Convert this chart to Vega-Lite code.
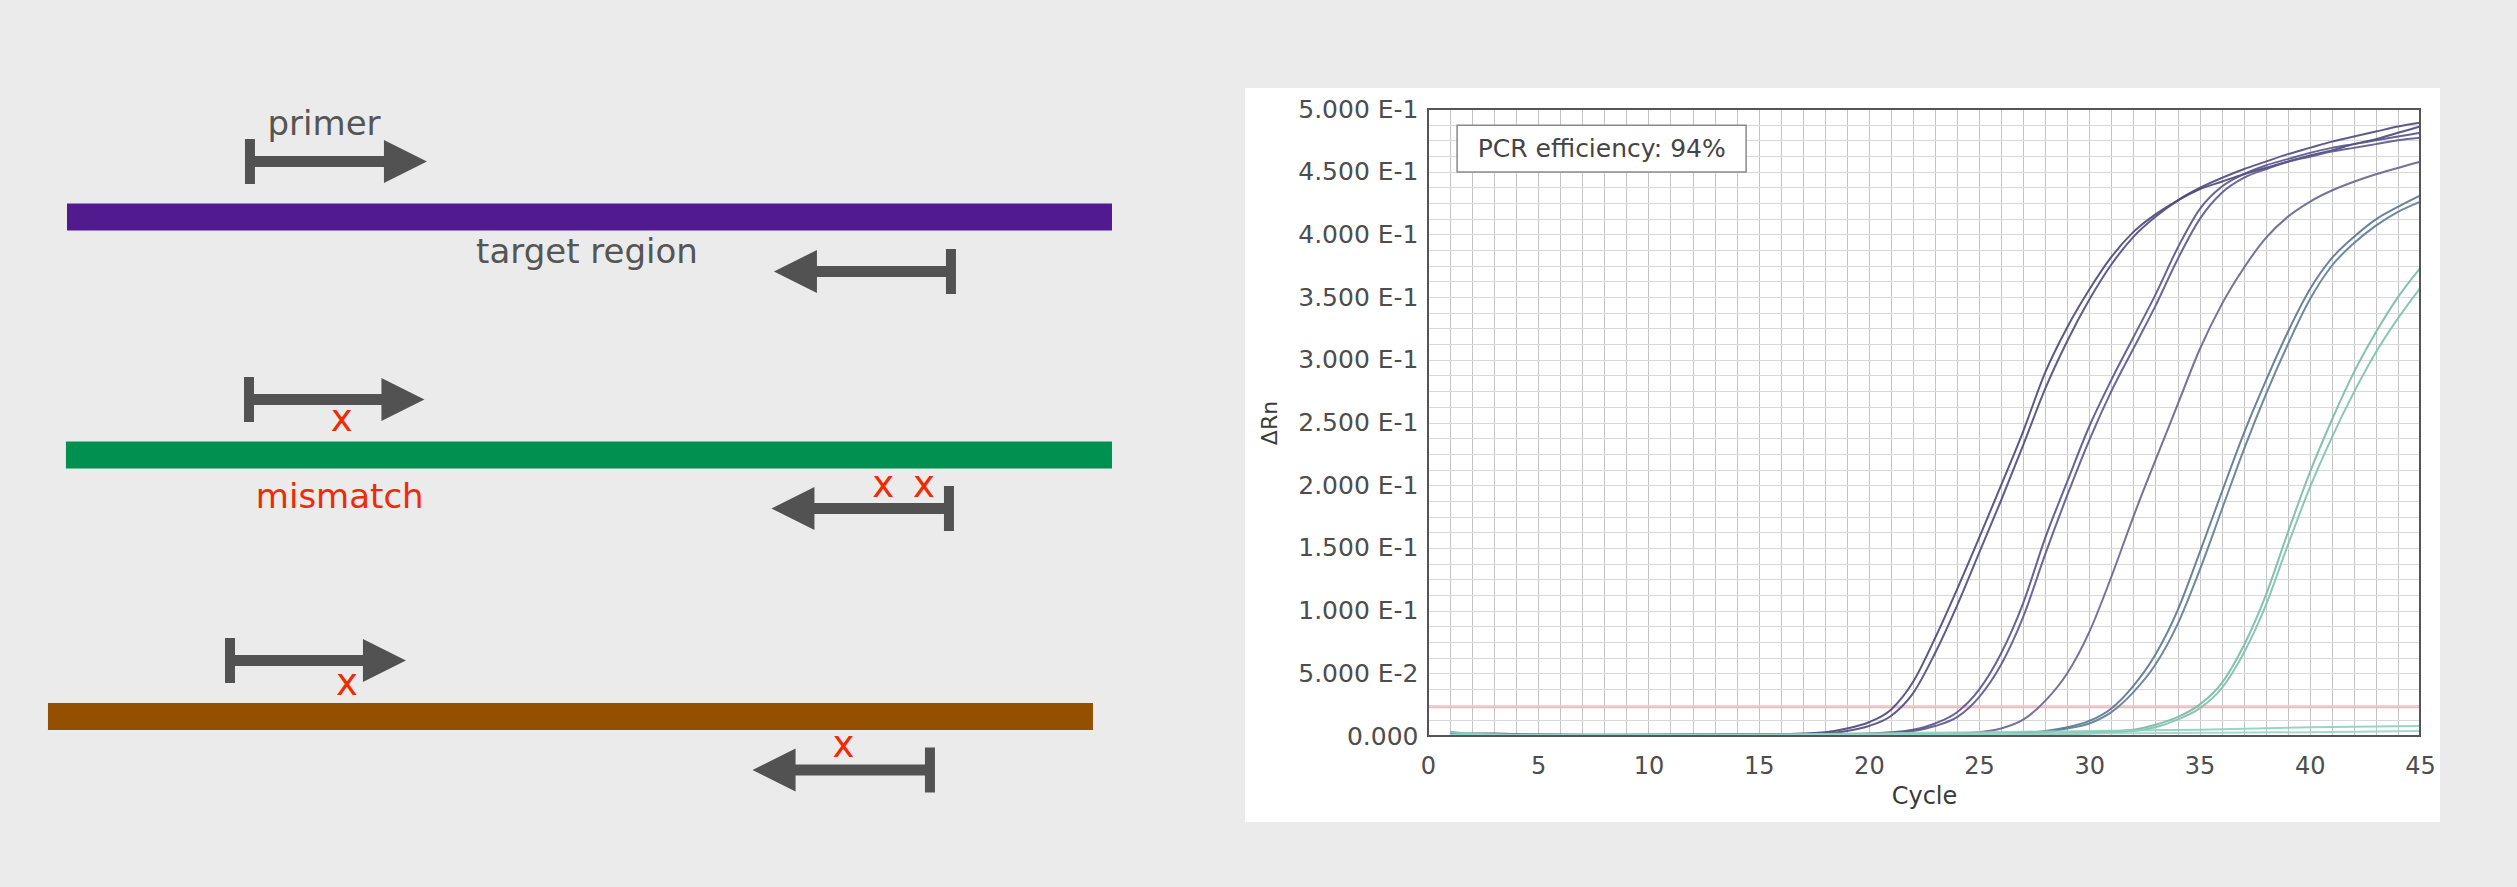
{
  "$schema": "https://vega.github.io/schema/vega-lite/v6.json",
  "background": "#ebebeb",
  "padding": {"left": 0, "top": 88, "right": 77, "bottom": 65},
  "bounds": "flush",
  "spacing": 174,
  "resolve": {"scale": {"color": "independent", "shape": "independent"}},
  "config": {
    "view": {"stroke": null},
    "font": "DejaVu Sans",
    "axis": {"labelFont": "DejaVu Sans", "titleFont": "DejaVu Sans", "labelColor": "#4d4d4d", "titleColor": "#3a3a3a", "titleFontWeight": "normal"}
  },
  "datasets": {
    "templates": [
      {"template": "target", "start": 0, "end": 100, "y": 10.8},
      {"template": "3 mismatches", "start": -0.1, "end": 100, "y": 34.6},
      {"template": "2 mismatches", "start": -1.82, "end": 98.18, "y": 60.75}
    ],
    "primers": [
      {"template": "target", "dir": "forward", "tick": 17.51, "head": 32.39, "y": 5.25},
      {"template": "target", "dir": "reverse", "tick": 84.59, "head": 69.71, "y": 16.25},
      {"template": "3 mismatches", "dir": "forward", "tick": 17.42, "head": 32.15, "y": 29.05},
      {"template": "3 mismatches", "dir": "reverse", "tick": 84.4, "head": 69.47, "y": 39.95},
      {"template": "2 mismatches", "dir": "forward", "tick": 15.6, "head": 30.38, "y": 55.15},
      {"template": "2 mismatches", "dir": "reverse", "tick": 82.58, "head": 67.66, "y": 66.1}
    ],
    "labels": [
      {"text": "primer", "x": 24.6, "y": 2.6, "kind": "label"},
      {"text": "target region", "x": 49.76, "y": 15.4, "kind": "label"},
      {"text": "mismatch", "x": 26.1, "y": 39.9, "kind": "mismatch"}
    ],
    "mismatches": [
      {"x": 26.3, "y": 32.2},
      {"x": 78.1, "y": 38.8},
      {"x": 82.0, "y": 38.8},
      {"x": 26.8, "y": 58.6},
      {"x": 74.3, "y": 64.8}
    ],
    "curves": [
      {"series":"A1","cycle":1,"rn":0.003},{"series":"A1","cycle":2,"rn":0.002},{"series":"A1","cycle":3,"rn":0.002},{"series":"A1","cycle":5,"rn":0.001},{"series":"A1","cycle":8,"rn":0.0005},{"series":"A1","cycle":12,"rn":0.001},{"series":"A1","cycle":15,"rn":0.001},{"series":"A1","cycle":17,"rn":0.002},{"series":"A1","cycle":18,"rn":0.003},{"series":"A1","cycle":19,"rn":0.006},{"series":"A1","cycle":20,"rn":0.011},{"series":"A1","cycle":21,"rn":0.021},{"series":"A1","cycle":22,"rn":0.043},{"series":"A1","cycle":23,"rn":0.078},{"series":"A1","cycle":24,"rn":0.117},{"series":"A1","cycle":25,"rn":0.158},{"series":"A1","cycle":26,"rn":0.2},{"series":"A1","cycle":27,"rn":0.243},{"series":"A1","cycle":28,"rn":0.29},{"series":"A1","cycle":29,"rn":0.326},{"series":"A1","cycle":30,"rn":0.356},{"series":"A1","cycle":31,"rn":0.382},{"series":"A1","cycle":32,"rn":0.402},{"series":"A1","cycle":33,"rn":0.416},{"series":"A1","cycle":34,"rn":0.427},{"series":"A1","cycle":35,"rn":0.436},{"series":"A1","cycle":36,"rn":0.442},{"series":"A1","cycle":37,"rn":0.448},{"series":"A1","cycle":38,"rn":0.453},{"series":"A1","cycle":39,"rn":0.458},{"series":"A1","cycle":40,"rn":0.463},{"series":"A1","cycle":41,"rn":0.467},{"series":"A1","cycle":42,"rn":0.472},{"series":"A1","cycle":43,"rn":0.476},{"series":"A1","cycle":44,"rn":0.481},{"series":"A1","cycle":45,"rn":0.486},
      {"series":"A2","cycle":1,"rn":0.002},{"series":"A2","cycle":3,"rn":0.001},{"series":"A2","cycle":6,"rn":0.001},{"series":"A2","cycle":10,"rn":0.0005},{"series":"A2","cycle":14,"rn":0.001},{"series":"A2","cycle":17,"rn":0.001},{"series":"A2","cycle":18,"rn":0.002},{"series":"A2","cycle":19,"rn":0.004},{"series":"A2","cycle":20,"rn":0.008},{"series":"A2","cycle":21,"rn":0.016},{"series":"A2","cycle":22,"rn":0.034},{"series":"A2","cycle":23,"rn":0.066},{"series":"A2","cycle":24,"rn":0.104},{"series":"A2","cycle":25,"rn":0.146},{"series":"A2","cycle":26,"rn":0.188},{"series":"A2","cycle":27,"rn":0.232},{"series":"A2","cycle":28,"rn":0.277},{"series":"A2","cycle":29,"rn":0.315},{"series":"A2","cycle":30,"rn":0.348},{"series":"A2","cycle":31,"rn":0.376},{"series":"A2","cycle":32,"rn":0.398},{"series":"A2","cycle":33,"rn":0.414},{"series":"A2","cycle":34,"rn":0.427},{"series":"A2","cycle":35,"rn":0.437},{"series":"A2","cycle":36,"rn":0.445},{"series":"A2","cycle":37,"rn":0.452},{"series":"A2","cycle":38,"rn":0.458},{"series":"A2","cycle":39,"rn":0.464},{"series":"A2","cycle":40,"rn":0.469},{"series":"A2","cycle":41,"rn":0.474},{"series":"A2","cycle":42,"rn":0.478},{"series":"A2","cycle":43,"rn":0.482},{"series":"A2","cycle":44,"rn":0.486},{"series":"A2","cycle":45,"rn":0.489},
      {"series":"B1","cycle":1,"rn":0.001},{"series":"B1","cycle":5,"rn":0.001},{"series":"B1","cycle":10,"rn":0.0005},{"series":"B1","cycle":15,"rn":0.001},{"series":"B1","cycle":20,"rn":0.002},{"series":"B1","cycle":21,"rn":0.003},{"series":"B1","cycle":22,"rn":0.005},{"series":"B1","cycle":23,"rn":0.01},{"series":"B1","cycle":24,"rn":0.019},{"series":"B1","cycle":25,"rn":0.037},{"series":"B1","cycle":26,"rn":0.066},{"series":"B1","cycle":27,"rn":0.106},{"series":"B1","cycle":28,"rn":0.158},{"series":"B1","cycle":29,"rn":0.203},{"series":"B1","cycle":30,"rn":0.247},{"series":"B1","cycle":31,"rn":0.284},{"series":"B1","cycle":32,"rn":0.318},{"series":"B1","cycle":33,"rn":0.352},{"series":"B1","cycle":34,"rn":0.389},{"series":"B1","cycle":35,"rn":0.42},{"series":"B1","cycle":36,"rn":0.438},{"series":"B1","cycle":37,"rn":0.448},{"series":"B1","cycle":38,"rn":0.455},{"series":"B1","cycle":39,"rn":0.46},{"series":"B1","cycle":40,"rn":0.465},{"series":"B1","cycle":41,"rn":0.469},{"series":"B1","cycle":42,"rn":0.472},{"series":"B1","cycle":43,"rn":0.475},{"series":"B1","cycle":44,"rn":0.478},{"series":"B1","cycle":45,"rn":0.481},
      {"series":"B2","cycle":1,"rn":0.001},{"series":"B2","cycle":6,"rn":0.0005},{"series":"B2","cycle":12,"rn":0.001},{"series":"B2","cycle":18,"rn":0.001},{"series":"B2","cycle":21,"rn":0.002},{"series":"B2","cycle":22,"rn":0.004},{"series":"B2","cycle":23,"rn":0.008},{"series":"B2","cycle":24,"rn":0.015},{"series":"B2","cycle":25,"rn":0.031},{"series":"B2","cycle":26,"rn":0.057},{"series":"B2","cycle":27,"rn":0.095},{"series":"B2","cycle":28,"rn":0.145},{"series":"B2","cycle":29,"rn":0.192},{"series":"B2","cycle":30,"rn":0.236},{"series":"B2","cycle":31,"rn":0.275},{"series":"B2","cycle":32,"rn":0.309},{"series":"B2","cycle":33,"rn":0.343},{"series":"B2","cycle":34,"rn":0.38},{"series":"B2","cycle":35,"rn":0.412},{"series":"B2","cycle":36,"rn":0.433},{"series":"B2","cycle":37,"rn":0.445},{"series":"B2","cycle":38,"rn":0.452},{"series":"B2","cycle":39,"rn":0.458},{"series":"B2","cycle":40,"rn":0.462},{"series":"B2","cycle":41,"rn":0.466},{"series":"B2","cycle":42,"rn":0.469},{"series":"B2","cycle":43,"rn":0.472},{"series":"B2","cycle":44,"rn":0.475},{"series":"B2","cycle":45,"rn":0.477},
      {"series":"C1","cycle":1,"rn":0.001},{"series":"C1","cycle":8,"rn":0.0005},{"series":"C1","cycle":16,"rn":0.001},{"series":"C1","cycle":22,"rn":0.001},{"series":"C1","cycle":24,"rn":0.002},{"series":"C1","cycle":25,"rn":0.003},{"series":"C1","cycle":26,"rn":0.006},{"series":"C1","cycle":27,"rn":0.013},{"series":"C1","cycle":28,"rn":0.028},{"series":"C1","cycle":29,"rn":0.05},{"series":"C1","cycle":30,"rn":0.083},{"series":"C1","cycle":31,"rn":0.127},{"series":"C1","cycle":32,"rn":0.175},{"series":"C1","cycle":33,"rn":0.22},{"series":"C1","cycle":34,"rn":0.264},{"series":"C1","cycle":35,"rn":0.308},{"series":"C1","cycle":36,"rn":0.344},{"series":"C1","cycle":37,"rn":0.373},{"series":"C1","cycle":38,"rn":0.397},{"series":"C1","cycle":39,"rn":0.414},{"series":"C1","cycle":40,"rn":0.426},{"series":"C1","cycle":41,"rn":0.435},{"series":"C1","cycle":42,"rn":0.442},{"series":"C1","cycle":43,"rn":0.448},{"series":"C1","cycle":44,"rn":0.453},{"series":"C1","cycle":45,"rn":0.458},
      {"series":"D1","cycle":1,"rn":0.001},{"series":"D1","cycle":10,"rn":0.001},{"series":"D1","cycle":20,"rn":0.001},{"series":"D1","cycle":26,"rn":0.002},{"series":"D1","cycle":28,"rn":0.004},{"series":"D1","cycle":29,"rn":0.007},{"series":"D1","cycle":30,"rn":0.012},{"series":"D1","cycle":31,"rn":0.022},{"series":"D1","cycle":32,"rn":0.04},{"series":"D1","cycle":33,"rn":0.065},{"series":"D1","cycle":34,"rn":0.1},{"series":"D1","cycle":35,"rn":0.146},{"series":"D1","cycle":36,"rn":0.194},{"series":"D1","cycle":37,"rn":0.241},{"series":"D1","cycle":38,"rn":0.283},{"series":"D1","cycle":39,"rn":0.322},{"series":"D1","cycle":40,"rn":0.356},{"series":"D1","cycle":41,"rn":0.381},{"series":"D1","cycle":42,"rn":0.398},{"series":"D1","cycle":43,"rn":0.412},{"series":"D1","cycle":44,"rn":0.422},{"series":"D1","cycle":45,"rn":0.431},
      {"series":"D2","cycle":1,"rn":0.0005},{"series":"D2","cycle":10,"rn":0.001},{"series":"D2","cycle":20,"rn":0.001},{"series":"D2","cycle":26,"rn":0.001},{"series":"D2","cycle":28,"rn":0.003},{"series":"D2","cycle":29,"rn":0.006},{"series":"D2","cycle":30,"rn":0.01},{"series":"D2","cycle":31,"rn":0.019},{"series":"D2","cycle":32,"rn":0.035},{"series":"D2","cycle":33,"rn":0.057},{"series":"D2","cycle":34,"rn":0.089},{"series":"D2","cycle":35,"rn":0.132},{"series":"D2","cycle":36,"rn":0.18},{"series":"D2","cycle":37,"rn":0.228},{"series":"D2","cycle":38,"rn":0.272},{"series":"D2","cycle":39,"rn":0.312},{"series":"D2","cycle":40,"rn":0.348},{"series":"D2","cycle":41,"rn":0.375},{"series":"D2","cycle":42,"rn":0.393},{"series":"D2","cycle":43,"rn":0.407},{"series":"D2","cycle":44,"rn":0.418},{"series":"D2","cycle":45,"rn":0.426},
      {"series":"E1","cycle":1,"rn":0.001},{"series":"E1","cycle":10,"rn":0.001},{"series":"E1","cycle":20,"rn":0.001},{"series":"E1","cycle":28,"rn":0.002},{"series":"E1","cycle":30,"rn":0.003},{"series":"E1","cycle":32,"rn":0.005},{"series":"E1","cycle":33,"rn":0.009},{"series":"E1","cycle":34,"rn":0.015},{"series":"E1","cycle":35,"rn":0.025},{"series":"E1","cycle":36,"rn":0.042},{"series":"E1","cycle":37,"rn":0.072},{"series":"E1","cycle":38,"rn":0.112},{"series":"E1","cycle":39,"rn":0.162},{"series":"E1","cycle":40,"rn":0.21},{"series":"E1","cycle":41,"rn":0.252},{"series":"E1","cycle":42,"rn":0.29},{"series":"E1","cycle":43,"rn":0.322},{"series":"E1","cycle":44,"rn":0.35},{"series":"E1","cycle":45,"rn":0.373},
      {"series":"E2","cycle":1,"rn":0.0005},{"series":"E2","cycle":10,"rn":0.001},{"series":"E2","cycle":20,"rn":0.001},{"series":"E2","cycle":28,"rn":0.001},{"series":"E2","cycle":30,"rn":0.002},{"series":"E2","cycle":32,"rn":0.004},{"series":"E2","cycle":33,"rn":0.007},{"series":"E2","cycle":34,"rn":0.013},{"series":"E2","cycle":35,"rn":0.022},{"series":"E2","cycle":36,"rn":0.038},{"series":"E2","cycle":37,"rn":0.066},{"series":"E2","cycle":38,"rn":0.104},{"series":"E2","cycle":39,"rn":0.152},{"series":"E2","cycle":40,"rn":0.198},{"series":"E2","cycle":41,"rn":0.238},{"series":"E2","cycle":42,"rn":0.274},{"series":"E2","cycle":43,"rn":0.306},{"series":"E2","cycle":44,"rn":0.333},{"series":"E2","cycle":45,"rn":0.357},
      {"series":"N1","cycle":1,"rn":0.003},{"series":"N1","cycle":2,"rn":0.002},{"series":"N1","cycle":4,"rn":0.001},{"series":"N1","cycle":8,"rn":0.0005},{"series":"N1","cycle":15,"rn":0.001},{"series":"N1","cycle":20,"rn":0.002},{"series":"N1","cycle":25,"rn":0.003},{"series":"N1","cycle":30,"rn":0.004},{"series":"N1","cycle":35,"rn":0.005},{"series":"N1","cycle":40,"rn":0.007},{"series":"N1","cycle":45,"rn":0.008},
      {"series":"N2","cycle":1,"rn":0.001},{"series":"N2","cycle":10,"rn":0.0005},{"series":"N2","cycle":20,"rn":0.001},{"series":"N2","cycle":30,"rn":0.002},{"series":"N2","cycle":40,"rn":0.003},{"series":"N2","cycle":45,"rn":0.004}
    ]
  },
  "hconcat": [
    {
      "width": 1254,
      "height": 627,
      "layer": [
        {
          "data": {"values": [{"panel": "amplification plot"}]},
          "mark": {"type": "rect", "fill": "#ffffff"},
          "encoding": {
            "x": {"datum": 112.73, "scale": {"domain": [-6.41, 113.59], "nice": false, "zero": false}, "axis": null},
            "x2": {"datum": 227.08},
            "y": {"datum": -2.1, "scale": {"domain": [0, 62.7], "reverse": true, "nice": false, "zero": false}, "axis": null},
            "y2": {"datum": 71.3}
          }
        },
        {
          "data": {"name": "templates"},
          "mark": {"type": "rule", "strokeWidth": 27, "strokeCap": "butt"},
          "encoding": {
            "x": {"field": "start", "type": "quantitative", "axis": null},
            "x2": {"field": "end"},
            "y": {"field": "y", "type": "quantitative", "axis": null},
            "color": {"field": "template", "type": "nominal", "scale": {"domain": ["target", "3 mismatches", "2 mismatches"], "range": ["#511a8f", "#009150", "#944f00"]}, "legend": null}
          }
        },
        {
          "data": {"name": "primers"},
          "mark": {"type": "rule", "strokeWidth": 11, "strokeCap": "butt", "color": "#525252"},
          "encoding": {
            "x": {"field": "tick", "type": "quantitative", "axis": null},
            "x2": {"field": "head"},
            "y": {"field": "y", "type": "quantitative", "axis": null}
          }
        },
        {
          "data": {"name": "primers"},
          "mark": {"type": "tick", "orient": "vertical", "size": 45, "thickness": 10, "color": "#525252", "opacity": 1},
          "encoding": {
            "x": {"field": "tick", "type": "quantitative", "axis": null},
            "y": {"field": "y", "type": "quantitative", "axis": null}
          }
        },
        {
          "data": {"name": "primers"},
          "mark": {"type": "point", "filled": true, "size": 1849, "opacity": 1, "strokeWidth": 0, "color": "#525252"},
          "encoding": {
            "x": {"field": "head", "type": "quantitative", "axis": null},
            "y": {"field": "y", "type": "quantitative", "axis": null},
            "shape": {"field": "dir", "type": "nominal", "scale": {"domain": ["forward", "reverse"], "range": ["M-1,-1L1,0L-1,1Z", "M1,-1L-1,0L1,1Z"]}, "legend": null}
          }
        },
        {
          "data": {"name": "labels"},
          "transform": [{"filter": "datum.kind == 'label'"}],
          "mark": {"type": "text", "font": "DejaVu Sans", "fontSize": 34, "align": "center", "baseline": "alphabetic", "color": "#555555"},
          "encoding": {
            "x": {"field": "x", "type": "quantitative", "axis": null},
            "y": {"field": "y", "type": "quantitative", "axis": null},
            "text": {"field": "text"}
          }
        },
        {
          "data": {"name": "labels"},
          "transform": [{"filter": "datum.kind == 'mismatch'"}],
          "mark": {"type": "text", "font": "DejaVu Sans", "fontSize": 34, "align": "center", "baseline": "alphabetic", "color": "#f02a05"},
          "encoding": {
            "x": {"field": "x", "type": "quantitative", "axis": null},
            "y": {"field": "y", "type": "quantitative", "axis": null},
            "text": {"field": "text"}
          }
        },
        {
          "data": {"name": "mismatches"},
          "mark": {"type": "text", "text": "x", "font": "DejaVu Sans", "fontSize": 37, "align": "center", "baseline": "alphabetic", "color": "#f02a05"},
          "encoding": {
            "x": {"field": "x", "type": "quantitative", "axis": null},
            "y": {"field": "y", "type": "quantitative", "axis": null}
          }
        }
      ]
    },
    {
      "width": 992,
      "height": 627,
      "encoding": {
        "x": {
          "field": "cycle", "type": "quantitative",
          "scale": {"domain": [0, 45], "nice": false, "zero": false},
          "axis": {
            "title": "Cycle",
            "values": [0,1,2,3,4,5,6,7,8,9,10,11,12,13,14,15,16,17,18,19,20,21,22,23,24,25,26,27,28,29,30,31,32,33,34,35,36,37,38,39,40,41,42,43,44,45],
            "labelExpr": "datum.value % 5 == 0 ? datum.label : ''",
            "grid": true, "gridColor": "#c4c4c4", "gridWidth": 1,
            "ticks": false, "domain": false,
            "labelPadding": 18, "labelFlush": false, "labelOverlap": false,
            "labelFontSize": 24, "titleFontSize": 24, "titlePadding": 6
          }
        },
        "y": {
          "field": "rn", "type": "quantitative",
          "scale": {"domain": [0, 0.5], "nice": false, "zero": false},
          "axis": {
            "title": "ΔRn",
            "values": [0,0.0125,0.025,0.0375,0.05,0.0625,0.075,0.0875,0.1,0.1125,0.125,0.1375,0.15,0.1625,0.175,0.1875,0.2,0.2125,0.225,0.2375,0.25,0.2625,0.275,0.2875,0.3,0.3125,0.325,0.3375,0.35,0.3625,0.375,0.3875,0.4,0.4125,0.425,0.4375,0.45,0.4625,0.475,0.4875,0.5],
            "labelExpr": "abs(datum.value*20 - round(datum.value*20)) < 0.001 ? (datum.value == 0 ? '0.000' : (datum.value < 0.099 ? format(datum.value*100, '.3f') + ' E-2' : format(datum.value*10, '.3f') + ' E-1')) : ''",
            "grid": true, "gridColor": "#d8d8d8", "gridWidth": 1,
            "ticks": false, "domain": false,
            "labelPadding": 10, "labelFlush": false, "labelOverlap": false,
            "labelFontSize": 25, "titleFontSize": 22, "titlePadding": 16
          }
        }
      },
      "layer": [
        {
          "data": {"values": [{"line": "threshold", "cycle": 0, "cycle_end": 45, "rn": 0.023}]},
          "mark": {"type": "rule", "color": "#f3b8b8", "strokeWidth": 2},
          "encoding": {"x2": {"field": "cycle_end"}}
        },
        {
          "data": {"name": "curves"},
          "mark": {"type": "line", "interpolate": "monotone", "strokeWidth": 2, "opacity": 0.9},
          "encoding": {
            "color": {
              "field": "series", "type": "nominal",
              "scale": {
                "domain": ["A1","A2","B1","B2","C1","D1","D2","E1","E2","N1","N2"],
                "range": ["#4a4679","#4e4a80","#56538a","#5a578e","#66648e","#5a7690","#5e7b94","#78b9a7","#7fc0ae","#8fcfc0","#9ad6c8"]
              },
              "legend": null
            }
          }
        },
        {
          "data": {"values": [{"note": "PCR efficiency: 94%", "cycle": 1.32, "cycle_end": 14.43, "rn": 0.4498, "rn_end": 0.487}]},
          "mark": {"type": "rect", "fill": "#ffffff", "stroke": "#8a8a8a", "strokeWidth": 1.5},
          "encoding": {"x2": {"field": "cycle_end"}, "y2": {"field": "rn_end"}}
        },
        {
          "data": {"values": [{"note": "PCR efficiency: 94%", "cycle": 7.88, "rn": 0.4684}]},
          "mark": {"type": "text", "font": "DejaVu Sans", "fontSize": 25, "color": "#444444", "align": "center", "baseline": "middle"},
          "encoding": {"text": {"field": "note"}}
        },
        {
          "data": {"values": [{"frame": "plot", "cycle": 0, "cycle_end": 45, "rn": 0, "rn_end": 0.5}]},
          "mark": {"type": "rect", "fill": null, "fillOpacity": 0, "stroke": "#555555", "strokeWidth": 2},
          "encoding": {"x2": {"field": "cycle_end"}, "y2": {"field": "rn_end"}}
        }
      ]
    }
  ]
}
